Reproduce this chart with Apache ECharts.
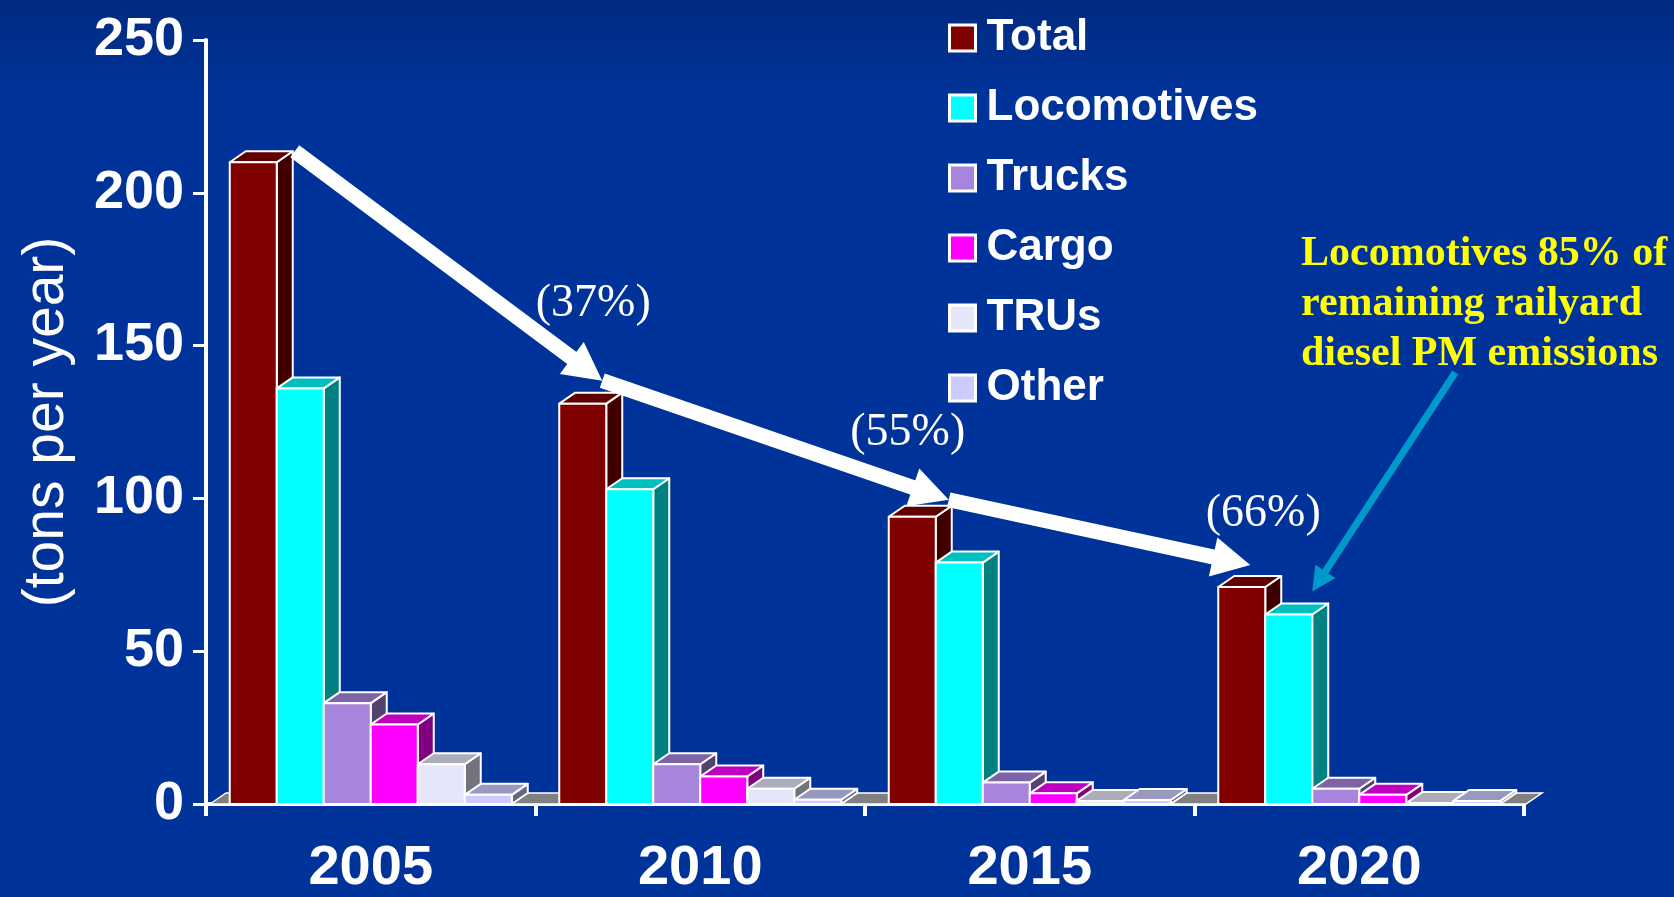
<!DOCTYPE html>
<html>
<head>
<meta charset="utf-8">
<title>Railyard diesel PM emissions</title>
<script src="https://cdn.jsdelivr.net/npm/echarts@6/dist/echarts.min.js"></script>
<style>
  html, body { margin: 0; padding: 0; background: #003399; }
  #chart { width: 1674px; height: 897px; }
</style>
</head>
<body>
<div id="chart"></div>
<script>
// data
const years = ['2005', '2010', '2015', '2020'];
const seriesNames = ['Total', 'Locomotives', 'Trucks', 'Cargo', 'TRUs', 'Other'];
const total = [210, 131, 94, 71];
const locomotives = [136, 103, 79, 62];
const trucks = [33, 13, 7, 5];
const cargo = [26, 9, 3.5, 3];
const trus = [13, 5, 1, 0.3];
const other = [3, 1.4, 1.3, 1];
const reductionLabels = ['(37%)', '(55%)', '(66%)'];
const calloutLines = ['Locomotives 85% of', 'remaining railyard', 'diesel PM emissions'];
const yAxisName = '(tons per year)';

const seriesValues = [total, locomotives, trucks, cargo, trus, other];

// face colours: front, top, side
const palette = [
  { front: '#800000', top: '#600000', side: '#400000' },
  { front: '#00FFFF', top: '#00BFBF', side: '#008080' },
  { front: '#A885DD', top: '#7E64A6', side: '#54436F' },
  { front: '#FF00FF', top: '#BF00BF', side: '#800080' },
  { front: '#E6E6FA', top: '#ACACBB', side: '#73737D' },
  { front: '#CCCCFF', top: '#9999BF', side: '#666680' }
];

const BAR_W = 47;   // front face width
const DX = 16;      // 3d depth
const DY = 11;
const edge = { stroke: '#fff', lineWidth: 2, lineJoin: 'round' };

const chartDom = document.getElementById('chart');
const myChart = echarts.init(chartDom);

const barSeries = seriesValues.map((values, k) => ({
  name: seriesNames[k],
  type: 'custom',
  z: 3 + k,
  silent: true,
  itemStyle: { color: palette[k].front },
  encode: { x: 0, y: 1 },
  data: values.map((v, i) => [i, v]),
  renderItem: (params, api) => {
    const i = api.value(0);
    const top = api.coord([i, api.value(1)]);
    const bot = api.coord([i, 0]);
    const x0 = top[0] - 3 * BAR_W + k * BAR_W;
    const x1 = x0 + BAR_W;
    const yt = top[1];
    const yb = bot[1];
    const col = palette[k];
    return {
      type: 'group',
      children: [
        {
          type: 'polygon',
          shape: { points: [[x1, yt], [x1 + DX, yt - DY], [x1 + DX, yb - DY], [x1, yb]] },
          style: Object.assign({ fill: col.side }, edge)
        },
        {
          type: 'polygon',
          shape: { points: [[x0, yt], [x0 + DX, yt - DY], [x1 + DX, yt - DY], [x1, yt]] },
          style: Object.assign({ fill: col.top }, edge)
        },
        {
          type: 'rect',
          shape: { x: x0, y: yt, width: BAR_W, height: yb - yt },
          style: Object.assign({ fill: col.front }, edge)
        }
      ]
    };
  }
}));

// grey 3d floor under the bars
const floorSeries = {
  name: 'floor',
  type: 'custom',
  z: 1,
  silent: true,
  data: [[0, 0]],
  renderItem: (params, api) => {
    const cs = params.coordSys;
    const yb = cs.y + cs.height;
    const xl = cs.x + 4;
    const xr = cs.x + cs.width + 2;
    return {
      type: 'polygon',
      shape: { points: [[xl, yb], [xl + DX, yb - DY], [xr + DX, yb - DY], [xr, yb]] },
      style: { fill: '#808080', stroke: '#fff', lineWidth: 1.5 }
    };
  }
};

function arrowShapes(p0, p1, color, width, headL, headW) {
  const dx = p1[0] - p0[0];
  const dy = p1[1] - p0[1];
  const len = Math.sqrt(dx * dx + dy * dy);
  const ux = dx / len, uy = dy / len;
  const px = -uy, py = ux;
  const bx = p1[0] - headL * ux, by = p1[1] - headL * uy;
  return [
    {
      type: 'line',
      shape: { x1: p0[0], y1: p0[1], x2: bx + 2 * ux, y2: by + 2 * uy },
      style: { stroke: color, lineWidth: width, lineCap: 'butt' }
    },
    {
      type: 'polygon',
      shape: { points: [[p1[0], p1[1]], [bx + headW * px, by + headW * py], [bx - headW * px, by - headW * py]] },
      style: { fill: color }
    }
  ];
}

// tip positions relative to the Total bar's front top-right corner
const tipNudge = [[-4, -23], [13, -17], [-15, -22]];
const labelNudge = [[-9, -77], [-41, -67], [13, -51]];

function totalTip(api, j) {
  const c = api.coord([j, total[j]]);
  if (j === 0) {
    return [c[0] - 2 * BAR_W + DX + 2, c[1] - DY];
  }
  return [c[0] - 2 * BAR_W + tipNudge[j - 1][0], c[1] + tipNudge[j - 1][1]];
}

const trendSeries = {
  name: 'trend',
  type: 'custom',
  z: 20,
  silent: true,
  encode: { x: 0, y: 1 },
  data: total.slice(1).map((v, j) => [j + 1, v]),
  renderItem: (params, api) => {
    const j = api.value(0);
    const p0 = totalTip(api, j - 1);
    const p1 = totalTip(api, j);
    const children = arrowShapes(p0, p1, '#fff', 15, 38, 20);
    children.push({
      type: 'text',
      style: {
        text: reductionLabels[j - 1],
        x: p1[0] + labelNudge[j - 1][0],
        y: p1[1] + labelNudge[j - 1][1],
        align: 'center',
        verticalAlign: 'middle',
        fill: '#fff',
        fontSize: 46,
        fontFamily: '"Liberation Serif", "DejaVu Serif", serif'
      }
    });
    return { type: 'group', children: children };
  }
};

// blue callout arrow pointing at the 2020 locomotive bar
const calloutSeries = {
  name: 'callout',
  type: 'custom',
  z: 21,
  silent: true,
  encode: { x: 0, y: 1 },
  data: [[3, locomotives[3]]],
  renderItem: (params, api) => {
    const c = api.coord([api.value(0), api.value(1)]);
    const tip = [c[0] - BAR_W, c[1] - 23];
    const start = [tip[0] + 143, tip[1] - 219];
    return { type: 'group', children: arrowShapes(start, tip, '#0099CC', 7, 24, 12) };
  }
};

const option = {
  backgroundColor: {
    type: 'linear', x: 0, y: 0, x2: 0, y2: 1,
    colorStops: [
      { offset: 0, color: '#002a80' },
      { offset: 0.1, color: '#003399' },
      { offset: 1, color: '#003399' }
    ]
  },
  animation: false,
  textStyle: { fontFamily: '"Liberation Sans", Arial, sans-serif' },
  grid: { left: 206, right: 150, top: 40, bottom: 84 },
  legend: {
    orient: 'vertical',
    left: 943,
    top: 11,
    itemWidth: 26,
    itemHeight: 26,
    itemGap: 26,
    selectedMode: false,
    icon: 'rect',
    textStyle: {
      color: '#fff',
      fontSize: 44,
      fontWeight: 'bold',
      lineHeight: 44,
      padding: [0, 0, 0, 6]
    },
    data: seriesNames.map((n, k) => ({
      name: n,
      itemStyle: { color: palette[k].front, borderColor: '#fff', borderWidth: 3 }
    }))
  },
  xAxis: {
    type: 'category',
    data: years,
    boundaryGap: true,
    axisLine: { lineStyle: { color: '#fff', width: 4 } },
    axisTick: { show: true, length: 12, lineStyle: { color: '#fff', width: 4 } },
    axisLabel: {
      color: '#fff',
      fontSize: 56,
      fontWeight: 'bold',
      margin: 37
    }
  },
  yAxis: {
    type: 'value',
    min: 0,
    max: 250,
    interval: 50,
    name: yAxisName,
    nameLocation: 'middle',
    nameRotate: 90,
    nameGap: 130,
    nameTextStyle: { color: '#fff', fontSize: 57 },
    axisLine: { show: true, lineStyle: { color: '#fff', width: 4 } },
    axisTick: { show: true, length: 13, lineStyle: { color: '#fff', width: 3 } },
    axisLabel: { color: '#fff', fontSize: 54, fontWeight: 'bold', margin: 22 },
    splitLine: { show: false }
  },
  graphic: [
    {
      type: 'text',
      left: 1301,
      top: 229,
      z: 30,
      style: {
        text: calloutLines.join('\n'),
        fill: '#FFFF00',
        fontSize: 42,
        fontWeight: 'bold',
        lineHeight: 50,
        fontFamily: '"Liberation Serif", "DejaVu Serif", serif'
      }
    }
  ],
  series: [floorSeries].concat(barSeries, [trendSeries, calloutSeries])
};

myChart.setOption(option);
</script>
</body>
</html>
